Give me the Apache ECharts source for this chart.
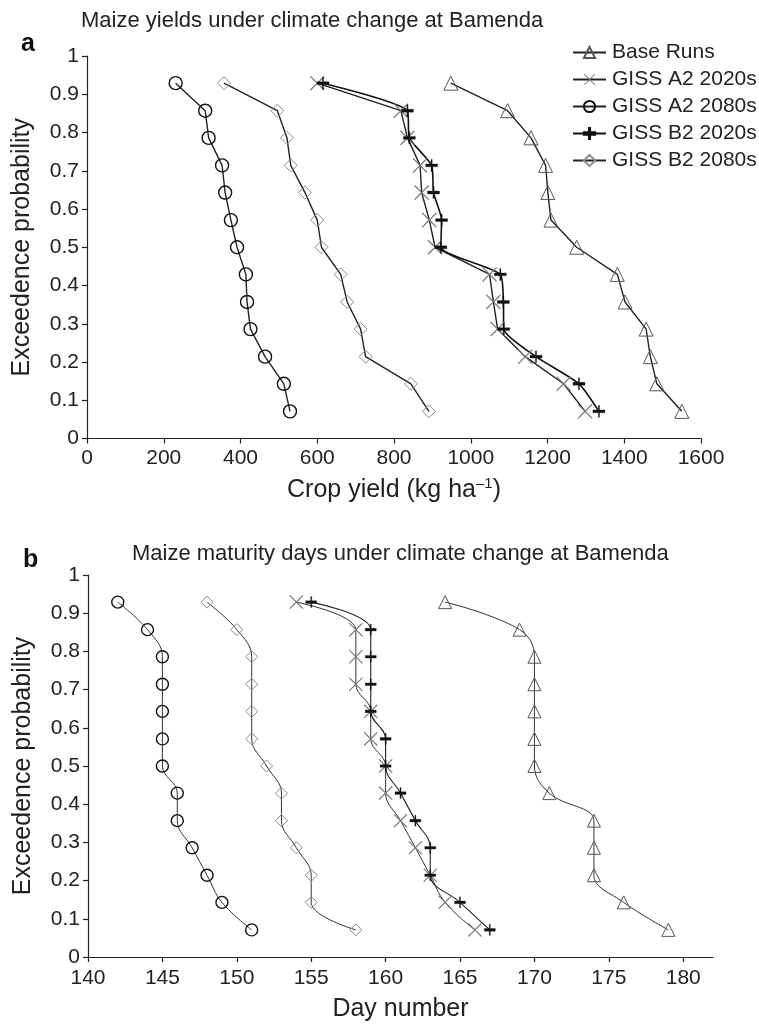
<!DOCTYPE html>
<html>
<head>
<meta charset="utf-8">
<title>Maize yields and maturity days under climate change at Bamenda</title>
<script src="https://cdn.jsdelivr.net/npm/echarts@6.0.0/dist/echarts.min.js"></script>
<style>
  html, body { margin: 0; padding: 0; background: #fff; }
  #chart { width: 759px; height: 1027px; }
</style>
</head>
<body>
<div id="chart"></div>
<script>
// exceedence probability of the 13 ranked runs
var probs = [0.929, 0.857, 0.786, 0.714, 0.643, 0.571, 0.500, 0.429, 0.357, 0.286, 0.214, 0.143, 0.071];

var seriesNames = ['Base Runs', 'GISS A2 2020s', 'GISS A2 2080s', 'GISS B2 2020s', 'GISS B2 2080s'];

// panel a - crop yield (kg/ha)
var yieldBase = [948, 1096, 1157, 1195, 1201, 1209, 1276, 1382, 1402, 1457, 1468, 1485, 1550];
var yieldA2_2020 = [600, 818, 835, 868, 872, 892, 907, 1049, 1059, 1070, 1142, 1242, 1298];
var yieldA2_2080 = [231, 308, 317, 352, 360, 375, 391, 414, 417, 426, 464, 513, 529];
var yieldB2_2020 = [615, 835, 840, 898, 903, 924, 922, 1077, 1085, 1086, 1170, 1282, 1334];
var yieldB2_2080 = [357, 496, 521, 531, 568, 600, 611, 661, 678, 713, 726, 844, 891];

// panel b - maturity day number
var dayBase = [164, 169, 170, 170, 170, 170, 170, 171, 174, 174, 174, 176, 179];
var dayA2_2020 = [154, 158, 158, 158, 159, 159, 160, 160, 161, 162, 163, 164, 166];
var dayA2_2080 = [142, 144, 145, 145, 145, 145, 145, 146, 146, 147, 148, 149, 151];
var dayB2_2020 = [155, 159, 159, 159, 159, 160, 160, 161, 162, 163, 163, 165, 167];
var dayB2_2080 = [148, 150, 151, 151, 151, 151, 152, 153, 153, 154, 155, 155, 158];

var dayTicks = [140, 145, 150, 155, 160, 165, 170, 175, 180];

var FONT = '"Liberation Sans", Arial, Helvetica, sans-serif';
var TXT = '#222';

// marker looks, same order as seriesNames
var plusPath = 'path://M0,3.8H4.5V0H5.5V3.8H10V6.2H5.5V10H4.5V6.2H0Z';
var crossPath = 'path://M0,0.6L0.6,0L5,4.4L9.4,0L10,0.6L5.6,5L10,9.4L9.4,10L5,5.6L0.6,10L0,9.4L4.4,5Z';
var markers = [
    { symbol: 'triangle', size: 14, fill: 'rgba(0,0,0,0)', border: '#555', bw: 1 },
    { symbol: crossPath, size: 15, fill: '#7a7a7a', border: '#7a7a7a', bw: 0 },
    { symbol: 'circle', size: 13, fill: 'rgba(0,0,0,0)', border: '#111', bw: 1.4 },
    { symbol: plusPath, size: 12, fill: '#111', border: '#111', bw: 0.3 },
    { symbol: 'diamond', size: 13, fill: 'rgba(0,0,0,0)', border: '#8a8a8a', bw: 1 }
];

function pts(values) {
    return values.map(function (v, i) { return [v, probs[i]]; });
}

function makeSeries(i, values, grid, opts) {
    var m = markers[i];
    return {
        name: seriesNames[i],
        type: 'line',
        xAxisIndex: grid,
        yAxisIndex: grid,
        data: pts(values),
        symbol: m.symbol,
        symbolSize: grid === 1 ? m.size - 1 : m.size,
        showAllSymbol: true,
        smooth: opts.smooth || false,
        itemStyle: { color: m.fill, borderColor: m.border, borderWidth: m.bw },
        lineStyle: { color: opts.color || '#222', width: opts.width || 1.4 },
        emphasis: { disabled: true }
    };
}

function valueAxis(extra) {
    var ax = {
        type: 'value',
        splitLine: { show: false },
        axisLine: { show: true, lineStyle: { color: '#222', width: 1.2 } },
        axisTick: { show: true, length: 5, lineStyle: { color: '#222', width: 1.2 } },
        axisLabel: { color: TXT, fontSize: 21, fontFamily: FONT },
        nameTextStyle: { color: TXT, fontSize: 25, fontFamily: FONT }
    };
    for (var k in extra) ax[k] = extra[k];
    return ax;
}

var chart = echarts.init(document.getElementById('chart'), null, { renderer: 'canvas' });

var option = {
    animation: false,
    backgroundColor: '#fff',
    textStyle: { fontFamily: FONT },
    title: [
        { text: 'Maize yields under climate change at Bamenda', left: 76, top: 5,
          textStyle: { fontSize: 22, fontWeight: 'normal', color: TXT, fontFamily: FONT } },
        { text: 'a', left: 16, top: 27,
          textStyle: { fontSize: 25, fontWeight: 'bold', color: '#111', fontFamily: FONT } },
        { text: 'Maize maturity days under climate change at Bamenda', left: 127, top: 538,
          textStyle: { fontSize: 22, fontWeight: 'normal', color: TXT, fontFamily: FONT } },
        { text: 'b', left: 18, top: 543,
          textStyle: { fontSize: 25, fontWeight: 'bold', color: '#111', fontFamily: FONT } }
    ],
    legend: {
        data: seriesNames,
        orient: 'vertical',
        left: 567,
        top: 37,
        itemWidth: 33,
        itemHeight: 14,
        itemGap: 6,
        selectedMode: false,
        textStyle: { fontSize: 21, color: TXT, fontFamily: FONT, padding: [0, 0, 0, 1] }
    },
    grid: [
        { left: 87, top: 56, width: 614, height: 382.5 },
        { left: 88, top: 575, width: 625, height: 382 }
    ],
    xAxis: [
        valueAxis({
            gridIndex: 0, min: 0, max: 1600, interval: 200,
            axisLabel: { color: TXT, fontSize: 21, fontFamily: FONT, margin: 9,
                formatter: function (v) { return String(v); } },
            name: '{t|Crop yield (kg ha}{s|–1}{t|)}',
            nameLocation: 'middle', nameGap: 38,
            nameTextStyle: {
                rich: {
                    t: { fontSize: 25, color: TXT, fontFamily: FONT },
                    s: { fontSize: 15, color: TXT, fontFamily: FONT, padding: [0, 0, 12, 0] }
                }
            }
        }),
        valueAxis({
            gridIndex: 1, min: 140, max: 182, interval: 5,
            name: 'Day number', nameLocation: 'middle', nameGap: 40,
            axisTick: { show: true, length: 5, customValues: dayTicks, lineStyle: { color: '#222', width: 1.2 } },
            axisLabel: { color: TXT, fontSize: 21, fontFamily: FONT, margin: 11, customValues: dayTicks }
        })
    ],
    yAxis: [
        valueAxis({ gridIndex: 0, min: 0, max: 1, interval: 0.1,
            name: 'Exceedence probability', nameLocation: 'middle', nameGap: 52 }),
        valueAxis({ gridIndex: 1, min: 0, max: 1, interval: 0.1,
            name: 'Exceedence probability', nameLocation: 'middle', nameGap: 52 })
    ],
    series: [
        makeSeries(0, yieldBase, 0, {}),
        makeSeries(1, yieldA2_2020, 0, {}),
        makeSeries(2, yieldA2_2080, 0, {}),
        makeSeries(3, yieldB2_2020, 0, { color: '#111', width: 1.6, smooth: 0.2 }),
        makeSeries(4, yieldB2_2080, 0, {}),

        makeSeries(0, dayBase, 1, { color: '#333', width: 1, smooth: 0.4 }),
        makeSeries(1, dayA2_2020, 1, { color: '#333', width: 1, smooth: 0.4 }),
        makeSeries(2, dayA2_2080, 1, { color: '#333', width: 1, smooth: 0.4 }),
        makeSeries(3, dayB2_2020, 1, { color: '#222', width: 1.1, smooth: 0.4 }),
        makeSeries(4, dayB2_2080, 1, { color: '#333', width: 1, smooth: 0.4 })
    ]
};

chart.setOption(option);
</script>
</body>
</html>
